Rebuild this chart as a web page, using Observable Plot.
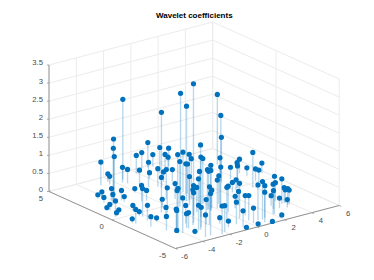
<!DOCTYPE html>
<html>
<head>
<meta charset="utf-8">
<script src="https://cdn.jsdelivr.net/npm/d3@7"></script>
<script src="https://cdn.jsdelivr.net/npm/@observablehq/plot@0.6"></script>
<style>html,body{margin:0;padding:0;background:#fff}svg{display:block}</style>
</head>
<body>
<div id="chart"></div>
<script>
const titleText = "Wavelet coefficients";
const xTicks = [-6, -4, -2, 0, 2, 4, 6];
const yTicks = [-5, 0, 5];
const zTicks = [0, 0.5, 1, 1.5, 2, 2.5, 3, 3.5];

const xs = [-2.95,-2.27,-2.45,-1.67,-1.54,-.11,.66,1.04,1.38,-.95,-1.06,-.04,.98,2.14,1.74,1.60,.68,.12,-1.50,.10,.16,-.47,-1.39,.28,.74,-2.95,-.91,-4.34,-3.87,-2.71,-2.13,-2.72,-4.26,-2.41,-4.03,-3.57,-4.22,-4.48,-4.38,-4.59,-3.56,-5.52,-2.37,-4.07,-3.44,-5.14,-5.27,-4.95,-5.34,-4.07,-4.42,-5.27,-4.29,-3.96,-3.89,-2.96,-3.36,-5.36,-4.91,-4.13,-4.57,-4.38,
-1.35,-3.78,-3.74,-3.70,-.38,-.63,-.63,.66,4.57,3.09,2.91,
-2.92,-.33,-.16,-1.59,-.14,.22,4.70,3.82,3.85,5.74,-.46,.34,3.67,3.09,4.78,-.57,-.54,-.44,-.46,4.66,4.69,-.86,-.67,.07,.58,2.39,2.82,.06,.17,-.64,.75,1.01,1.29,2.11,3.52,3.53,2.05,-1.98,-1.79,-1.30,-2.77,-2.52,-.18,-3.04,1.34,.91,.84,2.62,2.82,3.73,3.78,3.82,3.72,2.96,3.39,-2.11,-.68,.62,.27,-3.05,-2.62,-2.37,-1.99,-3.43,-.63,.21,-1.41,-1.36,2.08,1.16,.14,-.76,-3.63,-3.34];
const ys = [4.19,4.37,4.03,3.86,3.60,4.45,4.85,4.78,4.75,2.58,3.17,3.48,3.77,4.32,4.17,3.78,2.03,1.01,-.49,.76,.69,2.36,.70,2.72,2.52,-.60,.52,-3.41,-2.83,-.80,2.39,1.22,-.52,1.16,2.18,1.89,2.74,2.78,1.70,2.18,1.68,.26,-.04,-3.49,-1.49,1.12,1.21,.61,.37,.45,-1.08,-1.07,-.29,-2.86,-2.82,-2.53,-3.03,-.89,-1.88,-1.49,-2.74,-3.35,
4.18,2.29,2.35,2.32,2.17,.39,-.08,.76,3.09,1.22,.98,
-3.66,.03,.05,-2.25,-.84,-1.81,1.48,.72,-.49,.83,-1.82,-1.74,1.08,-.10,.98,-1.04,-1.64,-1.62,-1.82,.17,-.06,-.56,-1.07,-1.76,-1.33,-.45,-.28,-3.53,-2.51,-3.28,-4.24,-4.32,-4.20,-4.08,-3.14,-2.62,-4.04,-3.35,-1.89,-1.61,-2.89,-2.68,-1.59,-4.58,-2.07,-2.27,-4.68,-3.45,-3.05,-3.10,-3.13,-3.40,-3.39,-3.56,-3.71,-3.23,-4.08,-3.37,-4.03,-3.64,-3.39,-4.77,-4.57,-4.60,-4.55,-4.47,-3.55,-4.18,-4.69,-4.94,-4.91,-4.96,-3.98,-3.16];
const zs = [.64,.22,.22,.42,.39,.50,.44,.69,.33,.69,.39,.17,.72,.50,.39,.39,.83,1.11,1.25,.83,.83,.50,.83,.28,.33,.97,.42,1.25,1.05,.69,.11,.44,.78,.28,.33,.28,.17,.11,.28,.14,.14,.44,.22,.97,.33,.17,.08,.08,.08,.14,.42,.39,.11,.55,.50,.50,.39,.11,.28,.11,.39,.08,
2.22,1.66,1.39,1.16,2.08,2.91,2.63,2.99,1.94,1.80,1.25,
2.35,1.25,1.11,1.66,1.25,1.39,.39,.50,.97,.28,1.25,1.11,.33,.61,.22,.97,1.11,1.05,1.11,.33,.33,.78,.78,.78,.78,.28,.28,.97,.72,.89,.97,1.05,.89,1.05,.69,.50,.83,1.05,.83,.69,.97,.83,.50,1.16,.39,.33,.83,.50,.28,.42,.36,.39,.44,.28,.22,.69,.61,.55,.69,.69,.55,.78,.72,.61,.44,.42,.17,.17,.08,.03,.06,.06,.08,.44];

// oblique view of the box: each data unit's contribution to the picture plane
const view = {ox: 175, oy: 248, ux: 13.64, uy: -3.583, vx: -12.65, vy: -5.7, wy: -36.14, xMin: -6, yMin: -5};
const hx = (x, y) => view.ox + (x - view.xMin) * view.ux + (y - view.yMin) * view.vx;
const hy = (x, y, z) => view.oy + (x - view.xMin) * view.uy + (y - view.yMin) * view.vy + z * view.wy;

const seg = (a, b) => ({x1: hx(a[0], a[1]), y1: hy(a[0], a[1], a[2]), x2: hx(b[0], b[1]), y2: hy(b[0], b[1], b[2])});
const zTop = 3.5;
const grid = [];
for (const z of zTicks) { grid.push(seg([-6, 5, z], [6, 5, z])); grid.push(seg([6, 5, z], [6, -5, z])); }
for (const x of xTicks) { grid.push(seg([x, -5, 0], [x, 5, 0])); grid.push(seg([x, 5, 0], [x, 5, zTop])); }
for (const y of yTicks) { grid.push(seg([-6, y, 0], [6, y, 0])); grid.push(seg([6, y, 0], [6, y, zTop])); }

const edges = [seg([-6, 5, 0], [-6, 5, zTop]), seg([-6, 5, 0], [-6, -5, 0]), seg([-6, -5, 0], [6, -5, 0])];
const axisTicks = [
  ...zTicks.map(z => { const s = seg([-6, 5, z], [-6, 5, z]); s.x2 -= 2; return s; }),
  ...xTicks.map(x => { const s = seg([x, -5, 0], [x, -5, 0]); s.x2 += view.vx * -0.16; s.y2 += view.vy * -0.16; return s; }),
  ...yTicks.map(y => { const s = seg([-6, y, 0], [-6, y, 0]); s.x2 += view.ux * 0.12; s.y2 += view.uy * 0.12; return s; })
];

const pts = xs.map((x, i) => ({x, y: ys[i], z: zs[i]}));
const stems = pts.map(p => seg([p.x, p.y, 0], [p.x, p.y, p.z]));
const tips = pts.map(p => ({px: hx(p.x, p.y), py: hy(p.x, p.y, p.z)}));

const zLab = zTicks.map(z => ({px: hx(-6, 5), py: hy(-6, 5, z), t: String(z)}));
const yLab = yTicks.map(y => ({px: hx(-6, y) + (y - 5) * 0.5, py: hy(-6, y, 0), t: String(y)}));
const xLab = xTicks.map(x => ({px: hx(x, -5), py: hy(x, -5, 0), t: String(x)}));

const gridColor = "#ececec", edgeColor = "#949494", textColor = "#4a4a4a", blue = "#0072BD";
const lineOpts = {x1: "x1", y1: "y1", x2: "x2", y2: "y2"};

const chart = Plot.plot({
  width: 374, height: 280,
  marginTop: 0, marginRight: 0, marginBottom: 0, marginLeft: 0,
  x: {type: "linear", domain: [0, 374], range: [0, 374], axis: null},
  y: {type: "linear", domain: [0, 280], range: [0, 280], axis: null},
  style: {background: "#fff", fontFamily: "'Liberation Sans', Arial, sans-serif"},
  marks: [
    Plot.link(grid, {...lineOpts, stroke: gridColor, strokeWidth: 1}),
    Plot.link(edges, {...lineOpts, stroke: edgeColor, strokeWidth: 1}),
    Plot.link(axisTicks, {...lineOpts, stroke: edgeColor, strokeWidth: 0.8}),
    Plot.link(stems, {...lineOpts, stroke: blue, strokeWidth: 1.4, strokeOpacity: 0.27}),
    Plot.dot(tips, {x: "px", y: "py", r: 2.6, fill: blue, stroke: "none"}),
    Plot.text(zLab, {x: "px", y: "py", text: "t", textAnchor: "end", dx: -6, dy: -2, fontSize: 7.7, fill: textColor}),
    Plot.text(yLab, {x: "px", y: "py", text: "t", textAnchor: "middle", dx: -8, dy: 7, fontSize: 7.7, fill: textColor}),
    Plot.text(xLab, {x: "px", y: "py", text: "t", textAnchor: "middle", dx: 9, dy: 8, fontSize: 7.7, fill: textColor}),
    Plot.text([titleText], {x: () => 193.8, y: () => 15, text: d => d, textAnchor: "middle", fontSize: 8, fontWeight: "bold", fill: "#000"})
  ]
});
document.getElementById("chart").appendChild(chart);
</script>
</body>
</html>
